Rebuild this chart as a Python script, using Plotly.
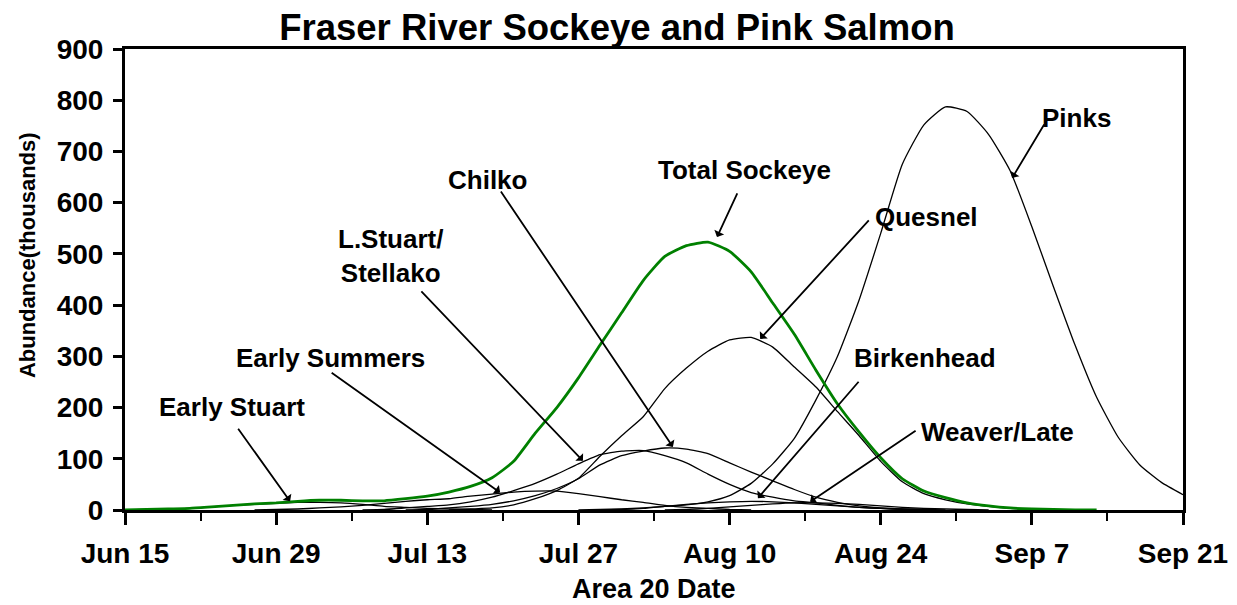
import plotly.graph_objects as go
from datetime import datetime, timedelta

START = datetime(2000, 6, 15)

# ---- axis ticks ----
tick_dates = ["2000-06-15", "2000-06-29", "2000-07-13", "2000-07-27",
              "2000-08-10", "2000-08-24", "2000-09-07", "2000-09-21"]
tick_labels = ["Jun 15", "Jun 29", "Jul 13", "Jul 27",
               "Aug 10", "Aug 24", "Sep 7", "Sep 21"]
y_ticks = [0, 100, 200, 300, 400, 500, 600, 700, 800, 900]

# ---- series: day offsets from Jun 15 and abundance (thousands) ----
early_stuart_days = list(range(0, 36, 2))
early_stuart_vals = [0, 1, 2, 3, 6, 9, 11, 13, 15, 15, 14, 11, 7, 5, 3, 2, 1, 0]

early_summers_days = list(range(12, 60, 2))
early_summers_vals = [0, 1, 2, 4, 6, 9, 13, 17, 20, 22, 27, 31, 35, 37, 37, 32,
                      26, 20, 15, 9, 5, 3, 1, 0]

lstuart_days = list(range(22, 76, 2))
lstuart_vals = [0, 1, 4, 7, 10, 16, 25, 38, 52, 70, 90, 108, 115, 116, 106, 92,
                70, 50, 34, 25, 18, 14, 9, 5, 3, 1, 0]

chilko_days = list(range(26, 76, 2))
chilko_vals = [0, 1, 4, 7, 11, 18, 28, 42, 61, 88, 106, 115, 121, 119, 110, 92,
               74, 57, 40, 25, 15, 8, 4, 2, 0]

quesnel_days = list(range(30, 88, 2))
quesnel_vals = [0, 2, 4, 10, 22, 38, 62, 105, 145, 182, 237, 277, 310, 332, 337,
                318, 279, 240, 192, 145, 95, 55, 32, 20, 12, 7, 3, 1, 0]

birkenhead_days = list(range(44, 78, 2))
birkenhead_vals = [0, 1, 3, 7, 11, 14, 16, 17, 16, 14, 11, 8, 5, 3, 2, 1, 0]

weaver_days = list(range(50, 82, 2))
weaver_vals = [0, 1, 3, 6, 9, 12, 14, 14, 13, 11, 8, 5, 3, 2, 1, 0]

pinks_days = list(range(42, 100, 2))
pinks_vals = [0, 1, 2, 4, 7, 10, 16, 28, 52, 90, 140, 215, 300, 410, 540, 675,
              752, 787, 778, 733, 662, 553, 436, 322, 220, 142, 88, 54, 30]

total_days = list(range(0, 92, 2))
total_vals = [0, 1, 2, 3, 6, 9, 12, 14, 17, 19, 19, 18, 18, 22, 27, 35, 46, 63,
              95, 150, 200, 258, 322, 385, 448, 495, 516, 523, 505, 465, 404,
              343, 273, 207, 152, 102, 61, 37, 24, 14, 8, 4, 2, 1, 0, 0]


def to_dates(days):
    return [START + timedelta(days=d) for d in days]


FONT = "Liberation Sans, Arial, sans-serif"

# the page body adds an 8 px margin; the figure is sized to fit inside it
FIG_W, FIG_H = 1229, 597

fig = go.Figure()

black_series = [
    ("Early Stuart", early_stuart_days, early_stuart_vals),
    ("Early Summers", early_summers_days, early_summers_vals),
    ("L.Stuart/Stellako", lstuart_days, lstuart_vals),
    ("Chilko", chilko_days, chilko_vals),
    ("Quesnel", quesnel_days, quesnel_vals),
    ("Birkenhead", birkenhead_days, birkenhead_vals),
    ("Weaver/Late", weaver_days, weaver_vals),
    ("Pinks", pinks_days, pinks_vals),
]
for name, d, v in black_series:
    assert len(d) == len(v), name
    fig.add_trace(go.Scatter(x=to_dates(d), y=v, mode="lines", name=name,
                             line=dict(color="black", width=1.3,
                                       shape="spline", smoothing=0.5)))

assert len(total_days) == len(total_vals)
fig.add_trace(go.Scatter(x=to_dates(total_days), y=total_vals, mode="lines",
                         name="Total Sockeye",
                         line=dict(color="#008000", width=2.8,
                                   shape="spline", smoothing=0.5)))

# ---- labels (paper coords) ----
labels = [
    ("Early Stuart", 0.1011, 0.2234),
    ("Early Summers", 0.1938, 0.3297),
    ("L.Stuart/<br>Stellako", 0.2505, 0.5510),
    ("Chilko", 0.3431, 0.7158),
    ("Total Sockeye", 0.5860, 0.7375),
    ("Quesnel", 0.7580, 0.6356),
    ("Birkenhead", 0.7561, 0.3297),
    ("Weaver/Late", 0.8242, 0.1692),
    ("Pinks", 0.8998, 0.8503),
]
annotations = []
for text, x, y in labels:
    annotations.append(dict(text=text, x=x, y=y, xref="paper", yref="paper",
                            showarrow=False, xanchor="center", yanchor="middle",
                            align="center",
                            font=dict(family=FONT, size=26, color="black",
                                      weight="bold")))

# ---- arrows: head in data coords, tail offset in px ----
arrows = [
    ("2000-06-30 07:00", 17, -53, -74),
    ("2000-07-19 18:00", 34, -170, -121),
    ("2000-07-27 10:00", 96, -163, -171),
    ("2000-08-04 18:00", 123, -173, -257),
    ("2000-08-08 20:00", 533, 21, -45),
    ("2000-08-12 20:00", 334, 110, -120),
    ("2000-08-12 15:00", 23, 102, -118),
    ("2000-08-17 11:00", 16, 107, -72),
    ("2000-09-05 04:00", 648, 33, -55),
]
for hx, hy, ax, ay in arrows:
    annotations.append(dict(text="", x=hx, y=hy, xref="x", yref="y",
                            ax=ax, ay=ay, axref="pixel", ayref="pixel",
                            showarrow=True, arrowhead=1, arrowsize=1,
                            arrowwidth=1.8, arrowcolor="black",
                            standoff=0, startstandoff=0))

# axis titles
annotations.append(dict(text="Area 20 Date", x=0.5, y=-0.171, xref="paper",
                        yref="paper", showarrow=False, xanchor="center",
                        yanchor="middle",
                        font=dict(family=FONT, size=27, color="black",
                                  weight="bold")))
annotations.append(dict(text="Abundance(thousands)", x=-0.0926, y=0.553,
                        xref="paper", yref="paper", showarrow=False,
                        textangle=-90, xanchor="center", yanchor="middle",
                        font=dict(family=FONT, size=22, color="black",
                                  weight="bold")))

fig.update_layout(
    width=FIG_W, height=FIG_H,
    margin=dict(l=117, r=54, t=41, b=95, autoexpand=False),
    paper_bgcolor="white", plot_bgcolor="white",
    showlegend=False,
    title=dict(text="Fraser River Sockeye and Pink Salmon", x=609 / FIG_W,
               xref="container", xanchor="center", y=1 - 19 / FIG_H,
               yref="container", yanchor="middle",
               font=dict(family=FONT, size=36.5, color="black", weight="bold")),
    annotations=annotations,
    xaxis=dict(type="date", range=[tick_dates[0], tick_dates[-1]],
               automargin=False,
               tickmode="array", tickvals=tick_dates, ticktext=tick_labels,
               ticks="outside", ticklen=12, tickwidth=2.5, tickcolor="black",
               ticklabelstandoff=4,
               minor=dict(dtick=7 * 86400000, tick0=tick_dates[0],
                          ticks="outside", ticklen=8, tickwidth=2,
                          tickcolor="black", showgrid=False),
               showline=True, linewidth=3, linecolor="black", mirror=True,
               showgrid=False, zeroline=False,
               tickfont=dict(family=FONT, size=28, color="black",
                             weight="bold")),
    yaxis=dict(range=[0, 900], tickmode="array", tickvals=y_ticks,
               automargin=False,
               ticks="outside", ticklen=9, tickwidth=2.5, tickcolor="black",
               ticklabelstandoff=4,
               showline=True, linewidth=3, linecolor="black", mirror=True,
               showgrid=False, zeroline=False,
               tickfont=dict(family=FONT, size=28, color="black",
                             weight="bold")),
)

fig.write_html("out.html")
